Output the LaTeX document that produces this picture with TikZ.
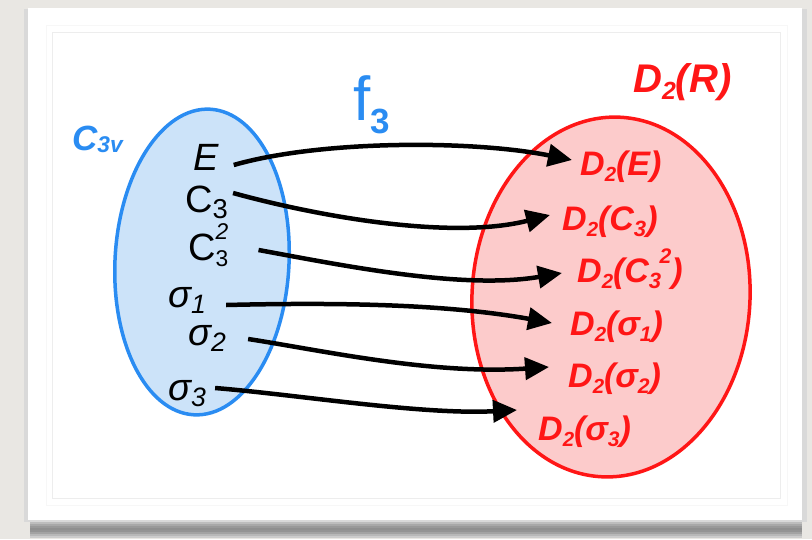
\documentclass[tikz,border=0pt]{standalone}
\usepackage{fontspec}
\setmainfont{Liberation Sans}
\usepackage{graphicx}
\usetikzlibrary{arrows.meta}
\definecolor{bgc}{HTML}{E9E7E3}
\definecolor{bluel}{HTML}{2A8CF2}
\definecolor{bluef}{HTML}{CCE3F9}
\definecolor{redl}{HTML}{FF1616}
\definecolor{redf}{HTML}{FCCBCB}
\newcommand\lsub[2][.7]{\raisebox{-.18em}{\scalebox{#1}{#2}}}
\newcommand\lsup[2][.6]{\raisebox{.55em}{\scalebox{#1}{#2}}}
\begin{document}
\begin{tikzpicture}[x=1pt,y=-1pt,
  blk/.style={anchor=base west,inner sep=0pt,text=black,font=\fontsize{38}{40}\selectfont\itshape},
  dlab/.style={anchor=base west,inner sep=0pt,text=redl,font=\fontsize{34}{36}\selectfont\bfseries\itshape},
  map/.style={line width=4.5pt,-{Triangle[length=24pt,width=22pt]}}]
\useasboundingbox (0,0) rectangle (812,539);
% background and card
\fill[bgc] (0,0) rectangle (812,539);
\foreach \k/\c in {0/18,2/26,4/34,6/40,8/44,10/42,12/36,14/28,16/20}
  \fill[black!\c] (30,520+\k) rectangle (802,522+\k);
\fill[gray!30] (24,9) rectangle (807,522);
\fill[white] (28,8) rectangle (802,520);
\draw[gray!6, line width=1pt] (46,25) rectangle (787,505);
\draw[gray!14, line width=1pt] (52,32) rectangle (780,498);
% sets
\draw[bluel, line width=3.5pt, fill=bluef, rotate around={-3:(202,262)}] (202,262) ellipse [x radius=87, y radius=153];
\draw[redl, line width=3.5pt, fill=redf, rotate around={-3:(611,297)}] (611,297) ellipse [x radius=139, y radius=180];
% titles
\node[anchor=base west,inner sep=0pt,text=bluel,font=\fontsize{35}{36}\selectfont\bfseries\itshape] (C3v) at (72,150) {C\raisebox{-.08em}{\scalebox{.65}{3v}}};
\node[anchor=base west,inner sep=0pt,text=bluel,font=\fontsize{62}{62}\selectfont] (f3) at (353,120) {f\raisebox{-13pt}{\fontsize{35}{35}\selectfont\bfseries 3}};
\node[anchor=base west,inner sep=0pt,text=redl,font=\fontsize{40}{42}\selectfont\bfseries\itshape] (DR) at (633,92) {D\lsub[.62]{2}(R)};
% left elements
\node[blk] (E) at (193,170) {E};
\node[blk,font=\fontsize{38}{40}\selectfont] (C3) at (185,212) {C\lsub[.72]{3}};
\node[blk,font=\fontsize{38}{40}\selectfont] (C32) at (188,260) {C\rlap{\lsub[.6]{3}}\lsup[.6]{\itshape 2}};
\node[blk] (s1) at (168,307) {σ\lsub{1}};
\node[blk] (s2) at (188,345) {σ\lsub{2}};
\node[blk] (s3) at (168,400) {σ\lsub{3}};
% right elements
\node[dlab] (DE) at (580,175) {D\lsub[.6]{2}(E)};
\node[dlab] (DC3) at (562,230) {D\lsub[.6]{2}(C\lsub[.65]{3})};
\node[dlab] (DC32) at (577,282) {D\lsub[.6]{2}(C\lsub[.65]{3}\kern-.05em\lsup[.62]{2})};
\node[dlab] (Ds1) at (570,335) {D\lsub[.6]{2}(σ\lsub[.62]{1})};
\node[dlab] (Ds2) at (568,387) {D\lsub[.6]{2}(σ\lsub[.62]{2})};
\node[dlab] (Ds3) at (538,440) {D\lsub[.6]{2}(σ\lsub[.62]{3})};
% mapping arrows
\draw[map] ([shift={(15,-5)}]E.base east) .. controls +(87,-25) and +(-100,-20) .. ([shift={(-8,-15)}]DE.base west);
\draw[map] ([shift={(5,-19)}]C3.base east) .. controls +(87,24) and +(-98,25) .. ([shift={(-12,-15)}]DC3.base west);
\draw[map] ([shift={(30,-10)}]C32.base east) .. controls +(82,15) and +(-100,17) .. ([shift={(-15,-9)}]DC32.base west);
\draw[map] ([shift={(20,-2)}]s1.base east) .. controls +(124,-3) and +(-100,-18) .. ([shift={(-18,-12)}]Ds1.base west);
\draw[map] ([shift={(22,-6)}]s2.base east) .. controls +(72,11) and +(-117,8) .. ([shift={(-19,-20)}]Ds2.base west);
\draw[map] ([shift={(9,-12)}]s3.base east) .. controls +(85,7) and +(-95,5) .. ([shift={(-21,-30)}]Ds3.base west);
\end{tikzpicture}
\end{document}
